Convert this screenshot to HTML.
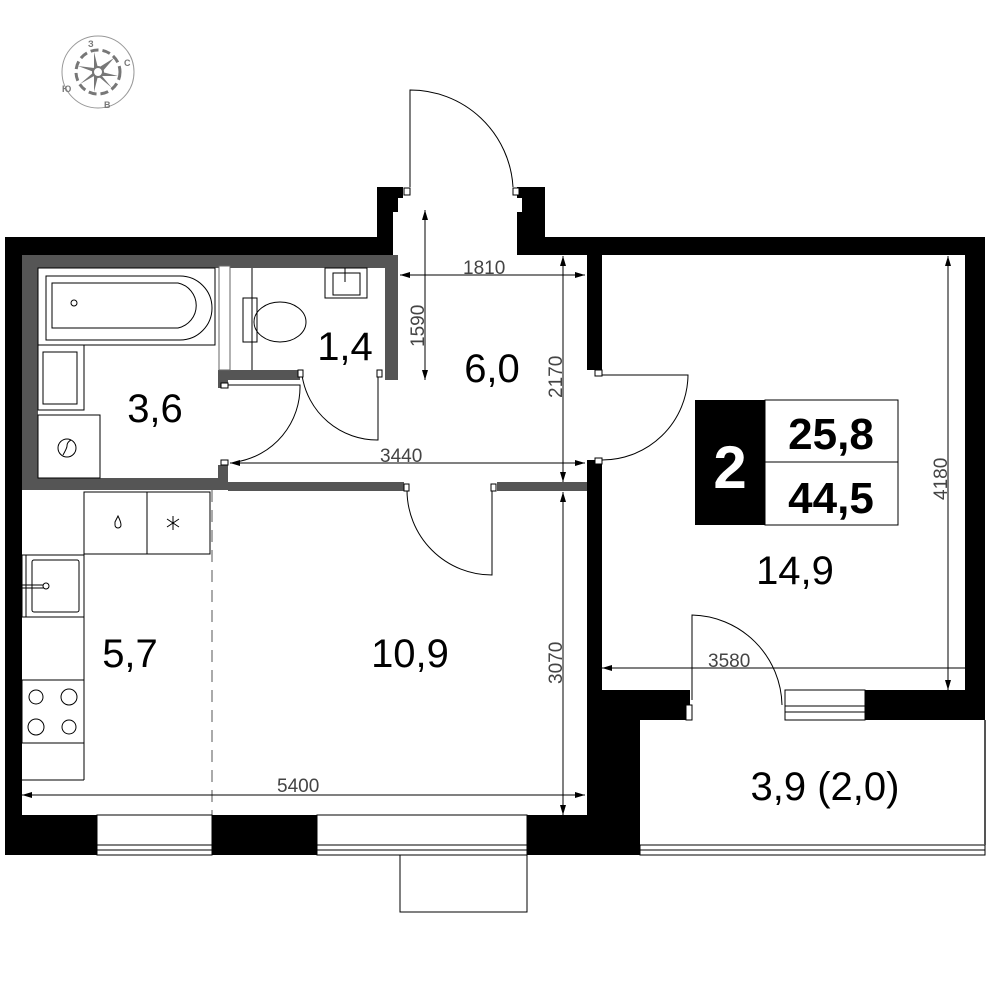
<!DOCTYPE html>
<html><head><meta charset="utf-8"><style>
html,body{margin:0;padding:0;background:#fff;width:1000px;height:1000px;overflow:hidden}
svg{display:block}
text{font-family:"Liberation Sans",sans-serif}
</style></head><body>
<svg width="1000" height="1000" viewBox="0 0 1000 1000" xmlns="http://www.w3.org/2000/svg">
<defs>
<marker id="a" viewBox="0 0 10 10" refX="10" refY="5" markerWidth="10" markerHeight="10" markerUnits="userSpaceOnUse" orient="auto-start-reverse"><path d="M0,2 L10,5 L0,8 z" fill="#000"/></marker>
</defs>
<!-- compass -->
<g transform="translate(98,72)">
<circle r="36" fill="none" stroke="#999" stroke-width="1"/>
<circle r="22" fill="none" stroke="#777" stroke-width="3" stroke-dasharray="8 4"/>
<path d="M-4,-20 L0,-4 L16,-14 L4,0 L20,4 L4,4 L14,16 L0,4 L-4,20 L-4,4 L-18,12 L-4,0 L-20,-6 L-4,-4 z" fill="#777"/>
<circle r="5" fill="#fff" stroke="#777" stroke-width="2"/>
<text x="-10" y="-25" font-size="9" fill="#777" font-weight="bold">З</text>
<text x="26" y="-6" font-size="9" fill="#777" font-weight="bold">С</text>
<text x="-36" y="20" font-size="9" fill="#777" font-weight="bold">Ю</text>
<text x="6" y="36" font-size="9" fill="#777" font-weight="bold">В</text>
</g>
<!-- outer walls -->
<g fill="#000">
<rect x="5" y="237" width="388" height="18"/>
<rect x="5" y="237" width="17" height="618"/>
<path d="M377,187 H403 V198 H398 V212 H393 V255 H377 z"/>
<path d="M517,187 H545 V237 H985 V255 H517 V212 H522 V198 H517 z"/>
<rect x="965" y="237" width="20" height="483"/>
<rect x="587" y="255" width="15" height="115"/>
<rect x="587" y="460" width="15" height="230"/>
<rect x="587" y="690" width="103" height="30"/>
<rect x="865" y="690" width="120" height="30"/>
<rect x="587" y="720" width="53" height="135"/>
<rect x="5" y="815" width="92" height="40"/>
<rect x="212" y="815" width="105" height="40"/>
<rect x="527" y="815" width="113" height="40"/>
</g>
<!-- gray bathroom walls -->
<g fill="#555">
<rect x="22" y="255" width="376" height="13"/>
<rect x="22" y="255" width="16" height="235"/>
<rect x="22" y="478" width="200" height="12"/>
<rect x="218" y="370" width="82" height="10"/>
<rect x="218" y="370" width="10" height="18"/>
<rect x="385" y="255" width="13" height="125"/>
<rect x="218" y="465" width="10" height="25"/>
<rect x="228" y="482" width="176" height="9"/>
<rect x="497" y="482" width="90" height="9"/>
</g>
<rect x="219" y="266" width="11" height="104" fill="#fff" stroke="#666" stroke-width="1"/>
<!-- bath fixtures -->
<g fill="none" stroke="#000" stroke-width="1">
<rect x="38" y="268" width="177" height="77"/>
<path d="M46,276 H180 A32,32 0 0 1 180,340 H46 z"/>
<path d="M52,283 H178 A23,23 0 0 1 178,328 H52 z"/>
<circle cx="74" cy="303" r="3"/>
<rect x="38" y="345" width="46" height="65"/>
<rect x="43" y="352" width="34" height="52"/>
<rect x="38" y="415" width="62" height="63"/>
<circle cx="67" cy="448" r="9"/>
<path d="M63,455 Q67,448 67,446 Q67,442 71,440"/>
<rect x="325" y="268" width="42" height="30"/>
<rect x="333" y="273" width="27" height="22"/>
<line x1="345" y1="268" x2="345" y2="282"/>
<line x1="252" y1="268" x2="252" y2="370"/>
<rect x="243" y="298" width="14" height="44"/>
<ellipse cx="280" cy="322" rx="26" ry="20"/>
<!-- doors -->
<path d="M302,375 A76,76 0 0 0 378,440 V375"/>
<path d="M228,385 H300 A76,76 0 0 1 236,462"/>
<path d="M410,187 V90 A103,103 0 0 1 513,187"/>
<path d="M407,490 A85,85 0 0 0 492,575 V490"/>
<path d="M600,375 H688 A86,86 0 0 1 600,460"/>
<path d="M692,700 V615 A92,92 0 0 1 782,705"/>
</g>
<g fill="#fff" stroke="#000" stroke-width="1">
<rect x="404" y="484" width="5" height="7"/><rect x="491" y="484" width="5" height="7"/>
<rect x="595" y="370" width="7" height="6"/><rect x="595" y="458" width="7" height="6"/>
<rect x="298" y="370" width="5" height="7"/><rect x="377" y="370" width="5" height="7"/>
<rect x="221" y="383" width="7" height="5"/><rect x="221" y="460" width="7" height="5"/>
<rect x="404" y="188" width="6" height="7"/><rect x="513" y="188" width="6" height="7"/>
<rect x="686" y="705" width="6" height="15"/>
</g>
<!-- kitchen -->
<g fill="none" stroke="#000" stroke-width="1">
<line x1="84" y1="492" x2="84" y2="780"/>
<line x1="22" y1="780" x2="84" y2="780"/>
<rect x="84" y="492" width="126" height="62"/>
<line x1="147" y1="492" x2="147" y2="554"/>
<path d="M115,522 Q118,516 118,516 Q121,522 121,525 A3,3 0 0 1 115,525 z"/>
<path d="M173,516 V530 M167,519 L179,527 M179,519 L167,527"/>
<rect x="22" y="555" width="62" height="62"/>
<line x1="26" y1="555" x2="26" y2="617"/>
<rect x="32" y="560" width="47" height="52" rx="2"/>
<line x1="22" y1="585" x2="44" y2="585"/><line x1="22" y1="588" x2="44" y2="588"/>
<circle cx="46" cy="586" r="3" fill="#fff"/>
<rect x="22" y="680" width="62" height="63"/>
<circle cx="36" cy="697" r="7"/><circle cx="69" cy="697" r="8"/>
<circle cx="36" cy="727" r="8"/><circle cx="69" cy="727" r="7"/>
<line x1="212" y1="490" x2="212" y2="815" stroke="#555" stroke-dasharray="12 8"/>
</g>
<!-- windows -->
<g fill="#fff" stroke="#000" stroke-width="1">
<rect x="97" y="815" width="115" height="40"/>
<line x1="97" y1="845" x2="212" y2="845"/><line x1="97" y1="850" x2="212" y2="850"/>
<rect x="317" y="815" width="210" height="40"/>
<line x1="317" y1="845" x2="527" y2="845"/><line x1="317" y1="850" x2="527" y2="850"/>
<rect x="400" y="855" width="127" height="57"/>
<rect x="785" y="690" width="80" height="30"/>
<line x1="785" y1="706" x2="865" y2="706"/><line x1="785" y1="712" x2="865" y2="712"/>
<rect x="640" y="845" width="345" height="10"/>
<line x1="640" y1="850" x2="985" y2="850"/>
<line x1="985" y1="720" x2="985" y2="845" stroke="#555" stroke-width="2"/>
</g>
<!-- dimensions -->
<g stroke="#000" stroke-width="1" fill="none" marker-start="url(#a)" marker-end="url(#a)">
<line x1="400" y1="275" x2="585" y2="275"/>
<line x1="425" y1="210" x2="425" y2="380"/>
<line x1="563" y1="256" x2="563" y2="482"/>
<line x1="230" y1="463" x2="585" y2="463"/>
<line x1="563" y1="492" x2="563" y2="815"/>
<line x1="22" y1="795" x2="585" y2="795"/>
<line x1="948" y1="256" x2="948" y2="690"/>
<line x1="602" y1="668" x2="975" y2="668"/>
</g>
<g fill="#444" font-size="19">
<text x="463" y="274">1810</text>
<text x="380" y="462">3440</text>
<text x="277" y="792">5400</text>
<text x="708" y="667">3580</text>
<text transform="translate(424,347) rotate(-90)">1590</text>
<text transform="translate(562,398) rotate(-90)">2170</text>
<text transform="translate(562,684) rotate(-90)">3070</text>
<text transform="translate(947,500) rotate(-90)">4180</text>
</g>
<!-- labels -->
<g font-size="40" fill="#000" text-anchor="middle">
<text x="155" y="422">3,6</text>
<text x="345" y="360">1,4</text>
<text x="492" y="382">6,0</text>
<text x="795" y="584">14,9</text>
<text x="130" y="667">5,7</text>
<text x="410" y="667">10,9</text>
<text x="825" y="800">3,9 (2,0)</text>
</g>
<!-- badge -->
<rect x="695" y="400" width="70" height="125" fill="#000"/>
<rect x="765" y="400" width="133" height="62" fill="#fff" stroke="#000"/>
<rect x="765" y="462" width="133" height="63" fill="#fff" stroke="#000"/>
<text x="730" y="488" font-size="60" font-weight="bold" fill="#fff" text-anchor="middle">2</text>
<text x="831" y="449" font-size="44" font-weight="bold" text-anchor="middle">25,8</text>
<text x="831" y="513" font-size="44" font-weight="bold" text-anchor="middle">44,5</text>
</svg>
</body></html>
